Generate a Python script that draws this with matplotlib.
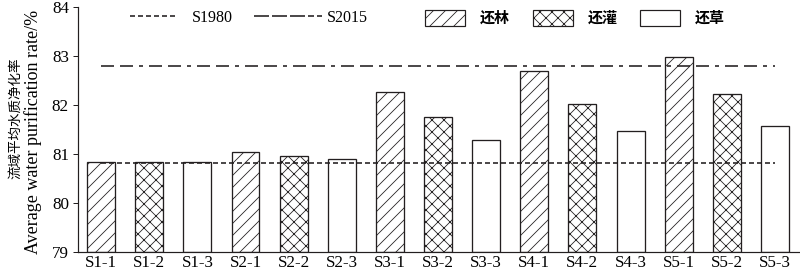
import matplotlib
matplotlib.use("Agg")
import matplotlib.pyplot as plt
from matplotlib.patches import Patch
from matplotlib.lines import Line2D

categories = ["S1-1", "S1-2", "S1-3", "S2-1", "S2-2", "S2-3", "S3-1", "S3-2", "S3-3",
              "S4-1", "S4-2", "S4-3", "S5-1", "S5-2", "S5-3"]
values = [80.84, 80.84, 80.83, 81.05, 80.96, 80.90, 82.27, 81.75, 81.29,
          82.70, 82.03, 81.46, 82.97, 82.22, 81.57]
kinds = ["还林", "还灌", "还草"] * 5
s1980 = 80.82
s2015 = 82.80
yticks = [79, 80, 81, 82, 83, 84]

hatch_map = {"还林": "//", "还灌": "xx", "还草": ""}
ec = "#231f20"

plt.rcParams['font.family'] = ['Liberation Serif', 'Noto Sans CJK SC']
plt.rcParams['hatch.linewidth'] = 0.8
plt.rcParams['lines.scale_dashes'] = False

DPI = 72
fig = plt.figure(figsize=(800 / DPI, 274 / DPI), dpi=DPI)
ax = fig.add_axes([78 / 800, 22 / 274, 721 / 800, 245 / 274])

x = list(range(len(categories)))
for xi, v, k in zip(x, values, kinds):
    ax.bar(xi, v - 79, bottom=79, width=0.58, facecolor="white", edgecolor=ec,
           linewidth=1.3, hatch=hatch_map[k])

ls1980 = (0, (5, 3))
ls2015 = (0, (13, 6, 13, 6, 4, 6))
ax.hlines(s1980, 0, 14, colors=ec, linewidth=1.6, linestyles=ls1980)
ax.hlines(s2015, 0, 14, colors=ec, linewidth=1.6, linestyles=ls2015)

ax.set_xlim(-0.48, 14.5)
ax.set_ylim(79, 84)
ax.set_yticks(yticks)
ax.set_xticks(x)
ax.set_xticklabels(categories)
ax.tick_params(axis='x', length=0, labelsize=17, pad=3)
ax.tick_params(axis='y', length=5, width=1, labelsize=17, pad=4, color=ec)
for s in ["top", "right"]:
    ax.spines[s].set_visible(False)
for s in ["left", "bottom"]:
    ax.spines[s].set_linewidth(1.2)
    ax.spines[s].set_color(ec)

fig.text(15 / 800, 1 - 118 / 274, "流域平均水质净化率", rotation=90, ha="center", va="center",
         fontsize=13.5, family=['Noto Sans CJK SC'])
fig.text(33 / 800, 1 - 132 / 274, "Average water purification rate/%", rotation=90,
         ha="center", va="center", fontsize=18)

leg1 = fig.legend([Line2D([], [], color=ec, lw=1.6, linestyle=ls1980)], ["S1980"],
                  loc="center left", bbox_to_anchor=(130 / 800, 1 - 18 / 274), frameon=False,
                  fontsize=16, handlelength=3.0, handletextpad=0.85,
                  borderpad=0, borderaxespad=0)
leg1b = fig.legend([Line2D([], [], color=ec, lw=1.6, linestyle=(0, (15, 3, 15, 3, 15, 3, 6, 3)))],
                   ["S2015"],
                   loc="center left", bbox_to_anchor=(254 / 800, 1 - 18 / 274), frameon=False,
                   fontsize=16, handlelength=4.25, handletextpad=0.3,
                   borderpad=0, borderaxespad=0)

patch_handles = [Patch(facecolor="white", edgecolor=ec, hatch=hatch_map[k], linewidth=1.2)
                 for k in ["还林", "还灌", "还草"]]
leg2 = fig.legend(patch_handles, ["还林", "还灌", "还草"], loc="center left",
                  bbox_to_anchor=(425 / 800, 1 - 18 / 274), ncol=3, frameon=False,
                  handlelength=2.67, handleheight=1.33, handletextpad=1.0,
                  columnspacing=1.5, borderpad=0, borderaxespad=0,
                  prop={'family': ['Noto Sans CJK SC'], 'size': 15, 'weight': 'bold'})

fig.savefig("out.png", dpi=DPI)
